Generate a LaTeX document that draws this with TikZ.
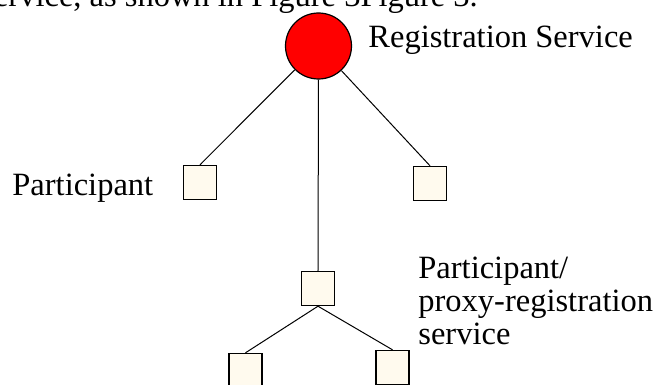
\documentclass[tikz,border=0pt]{standalone}
\usepackage{fontspec}
\setmainfont{Liberation Serif}
\usetikzlibrary{positioning}
\definecolor{boxfill}{RGB}{255,250,238}
\tikzset{/reg/service/.style={circle, draw, fill=red, line width=0.6pt, minimum size=33pt, inner sep=0pt}}
\tikzset{/reg/participant/.style={rectangle, draw, fill=boxfill, line width=0.7pt, minimum width=16.5pt, minimum height=17pt, inner sep=0pt}}
\tikzset{/reg/label/.style={inner sep=0pt, anchor=base west, align=left, font=\fontsize{16.25pt}{16.5pt}\selectfont}}
\tikzset{/reg/link/.style={draw, line width=0.5pt}}

\begin{document}
\begin{tikzpicture}[x=0.5pt, y=-0.5pt]
	\useasboundingbox (0,0) rectangle (661,385);
	\clip (0,0) rectangle (661,385);
	% line of running text, cut by the crop
	\node[/reg/label] (caption) at (-19,7) {service, as shown in Figure 3Figure 3.};
	% tree
	\node[/reg/service] (rs) at (318.5,46) {};
	\node[/reg/participant] (p1) at (200,182.5) {};
	\node[/reg/participant] (p2) at (430,183.5) {};
	\node[/reg/participant] (pm) at (318,288.5) {};
	\node[/reg/participant] (c1) at (245.5,370.5) {};
	\node[/reg/participant] (c2) at (392.5,367.5) {};
	\path[/reg/link] (rs) -- (p1.north);
	\path[/reg/link] (rs) -- (p2.north);
	\path[/reg/link] (rs.south) -- (pm.north);
	\path[/reg/link] (pm.south) -- (c1.north);
	\path[/reg/link] (pm.south) -- (c2.north);
	% labels (base is the last line)
	\node[/reg/label] (rslabel) at (368,48) {Registration Service};
	\node[/reg/label] (p1label) at (12,196) {Participant};
	\node[/reg/label] (pmlabel) at (418,345) {Participant/\\proxy-registration\\service};
\end{tikzpicture}
\end{document}
